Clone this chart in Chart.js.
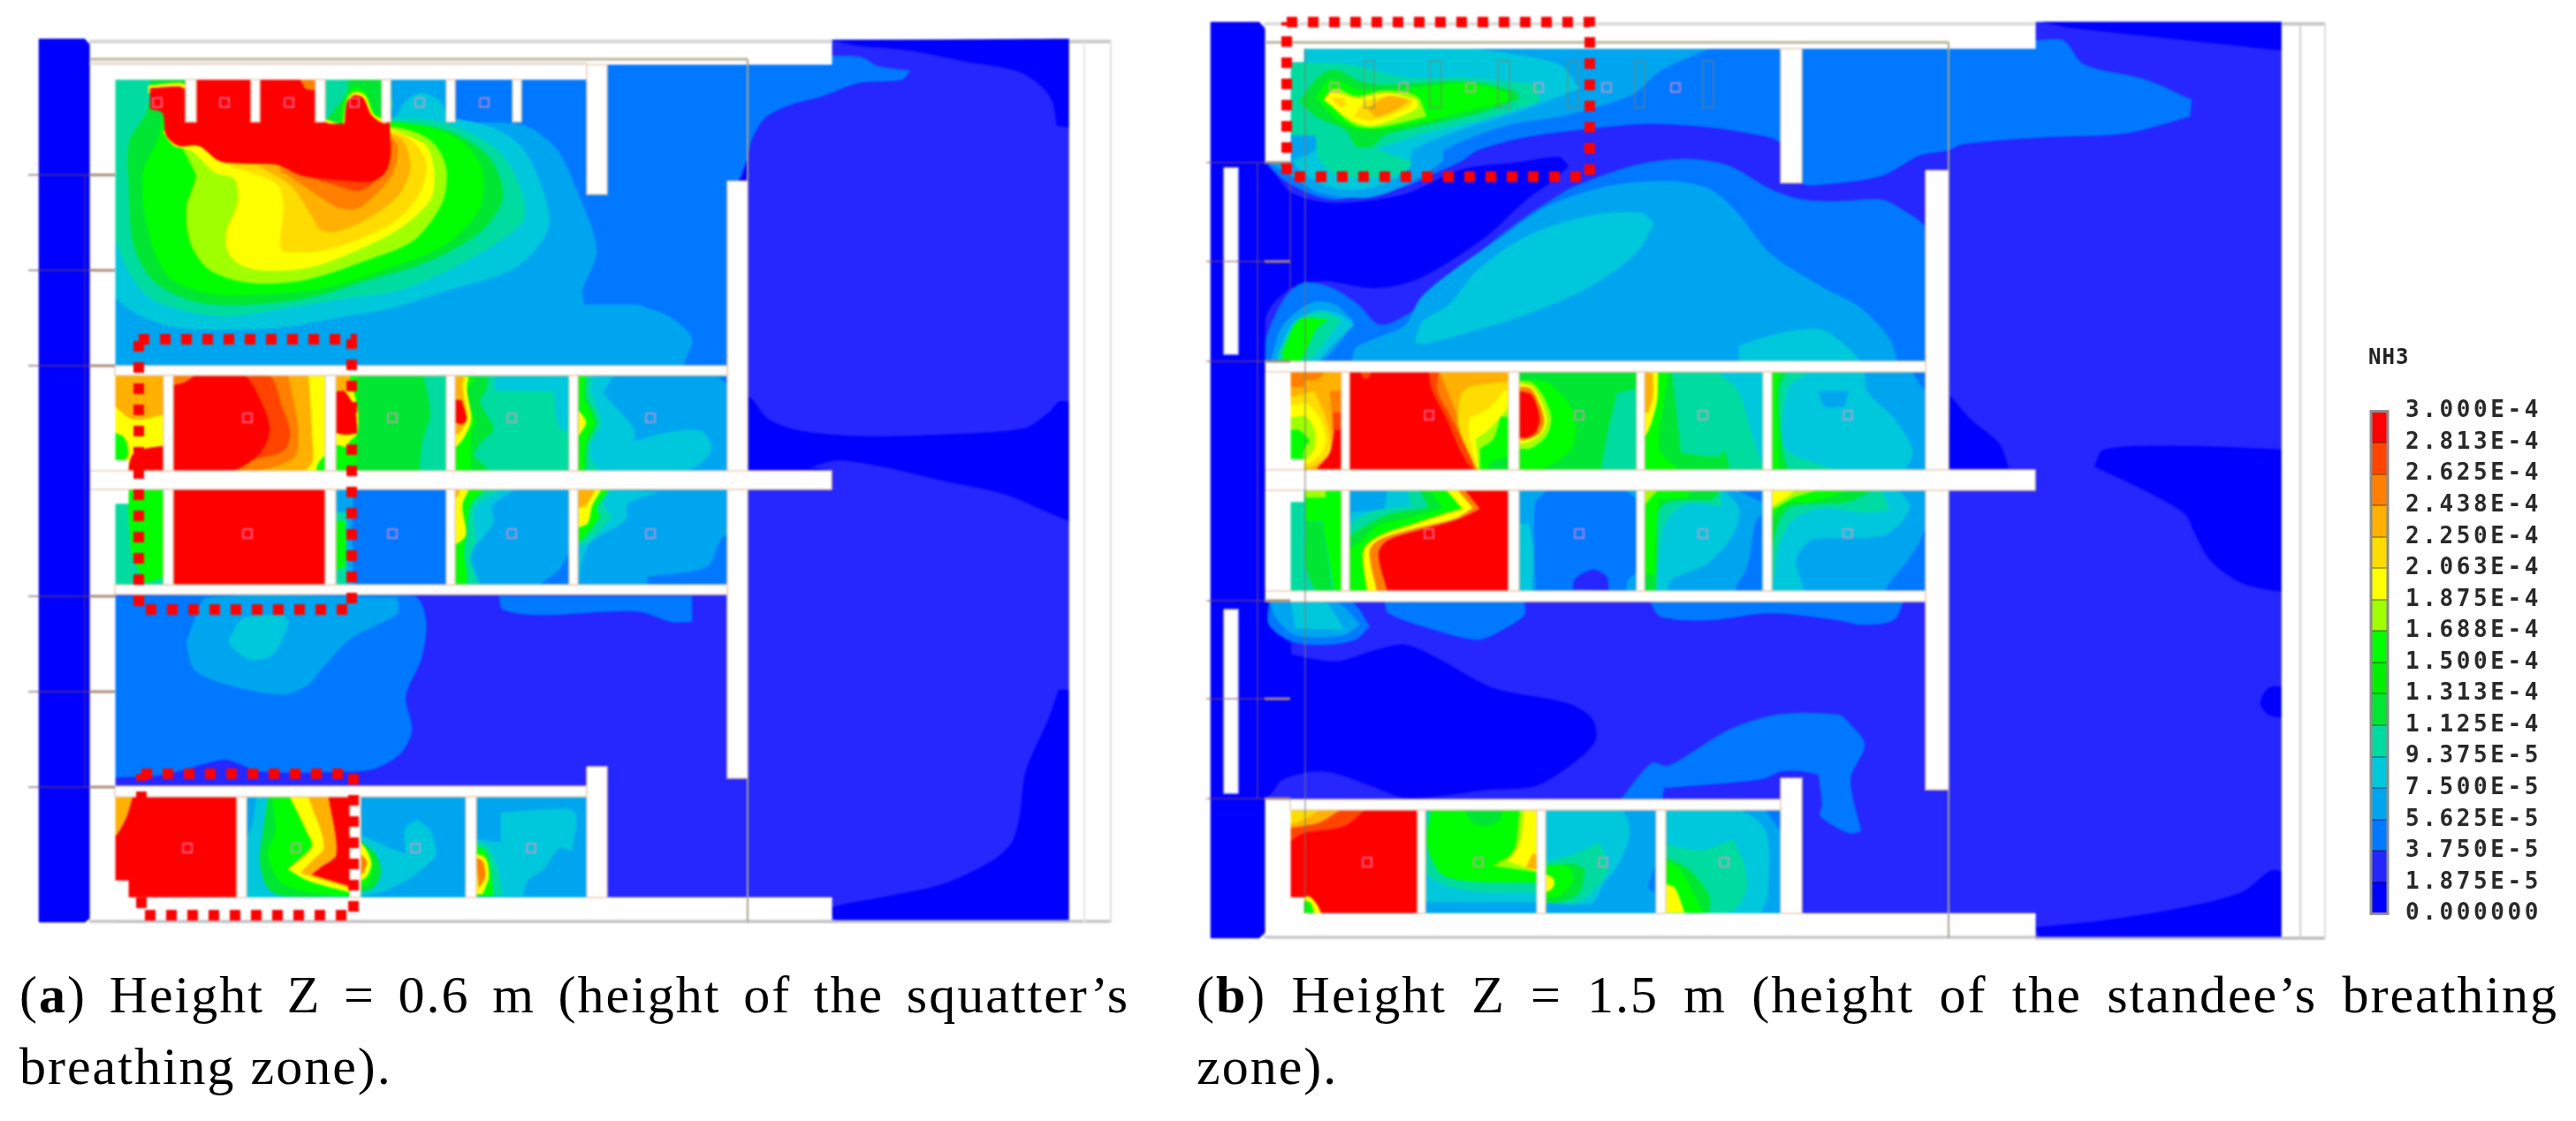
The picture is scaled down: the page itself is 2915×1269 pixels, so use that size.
<!DOCTYPE html>
<html>
<head>
<meta charset="utf-8">
<style>
  html, body { margin: 0; background: #fff; }
  body { position: relative; width: 2915px; height: 1269px; overflow: hidden; }
  canvas { position: absolute; }
  #contours { left: 0; top: 0; filter: blur(0.8px); }
  #legendBar { left: 2670px; top: 430px; filter: blur(0.6px); }
  .cap { position: absolute; font: 60px "Liberation Serif", serif; line-height: 1; color: #000; letter-spacing: 2px; text-align: justify; text-align-last: justify; }
  .cap.short { text-align-last: left; }
  #nh3 { position: absolute; left: 2680px; top: 390px; font: bold 24px "DejaVu Sans Mono", monospace; letter-spacing: 1px; color: #222; filter: blur(0.5px); }
</style>
</head>
<body>
<canvas id="contours" width="2915" height="1269" style="width:2915px;height:1269px"></canvas>
<canvas id="legendBar" width="245" height="640" style="width:245px;height:640px"></canvas>
<div id="nh3">NH3</div>
<div class="cap" style="left:22px;top:1096px;width:1256px"><span>(<b>a</b>) Height Z = 0.6 m (height of the squatter’s</span></div>
<div class="cap short" style="left:22px;top:1177px;width:1256px">breathing zone).</div>
<div class="cap" style="left:1354px;top:1096px;width:1541px"><span>(<b>b</b>) Height Z = 1.5 m (height of the standee’s breathing</span></div>
<div class="cap short" style="left:1354px;top:1177px;width:1541px">zone).</div>
<script src="https://cdn.jsdelivr.net/npm/chart.js@4"></script>
<script>
// colour bins, lowest concentration first
const levelColors = ["#0000ff", "#2626ff", "#0078ff", "#00a5f0", "#00c8dc", "#00dca0", "#00e632", "#00f000",
  "#00ff00", "#a0ff00", "#ffff00", "#ffdc00", "#ffb000", "#ff8000", "#ff4400", "#ff0000"];
const tickValues = [0, 1.875e-5, 3.75e-5, 5.625e-5, 7.5e-5, 9.375e-5, 1.125e-4, 1.313e-4, 1.5e-4, 1.688e-4,
  1.875e-4, 2.063e-4, 2.25e-4, 2.438e-4, 2.625e-4, 2.813e-4, 3e-4];
const tickLabels = ["0.000000", "1.875E-5", "3.750E-5", "5.625E-5", "7.500E-5", "9.375E-5", "1.125E-4", "1.313E-4",
  "1.500E-4", "1.688E-4", "1.875E-4", "2.063E-4", "2.250E-4", "2.438E-4", "2.625E-4", "2.813E-4", "3.000E-4"];

// contours: [level, x, y, x, y, ...]
const aBase = [
  [1, 130,45,1210,45,1210,1044,130,1044],
  [0, 943,46,1210,44,1210,144,1196,142,1191,115,1177,96,1150,80,1090,69,1030,57,975,52],
  [0, 835,205,846,205,846,165],
  [0, 846,448,851,452,870,475,907,488,975,494,1067,492,1159,485,1187,467,1198,455,1210,455,1210,590,1182,578,1136,559,1067,544,998,528,948,521,916,529,941,533,846,533],
  [0, 1210,781,1198,781,1187,813,1161,873,1154,924,1145,954,1122,975,1067,1001,998,1016,943,1027,941,1035,948,1042,1210,1042],
];
const aTopRoom = [
  [2, 130,90,664,90,664,73,941,73,941,63,975,65,994,75,1030,80,1021,90,971,94,930,109,893,119,865,134,851,157,845,180,835,205,823,205,823,414,130,414],
  [3, 130,90,515,90,515,139,592,142,629,168,652,214,675,283,659,329,661,345,720,345,728,347,760,360,783,383,776,406,771,414,130,414],
  [4, 130,337,156,356,197,370,257,373,321,370,390,358,441,349,505,329,583,303,620,260,615,218,592,169,560,146,510,134,442,134,442,90,130,90],
  [4, 448,132,459,115,477,105,498,115,505,130,505,139,448,139],
  [5, 130,268,147,310,170,337,211,352,257,358,321,349,395,337,459,326,542,287,592,249,588,211,565,172,528,149,487,136,442,134,442,110,395,90,130,90],
  [6, 165,130,146,161,146,214,151,276,174,318,220,341,275,345,349,337,413,318,487,295,546,260,569,222,555,180,519,153,482,142,442,138,442,90,395,90,392,105,378,125,368,135,222,138,210,90,170,90,170,110],
  [8, 161,199,163,237,177,291,197,318,243,333,298,333,367,326,441,303,505,276,542,237,546,195,528,165,496,147,442,138,395,138,290,138,190,150,185,130,178,160,165,185],
  [8, 385,130,392,108,402,98,414,104,425,128,440,136,390,145],
  [9, 220,207,211,237,216,276,234,303,262,316,298,321,349,316,413,295,468,272,500,230,505,192,493,165,473,151,445,144,300,140,207,168,222,199],
  [10, 184,149,197,165,216,170,243,195,266,203,269,230,257,260,257,283,271,299,298,306,349,303,395,287,450,260,487,226,491,192,482,165,459,153,443,147,300,140],
  [10, 368,135,388,142,393,112,401,104,413,108,423,130,441,138,441,145,368,142],
  [10, 168,97,203,94,210,97,210,105,168,105],
  [11, 243,180,262,188,312,207,321,230,317,276,321,285,367,283,413,268,454,245,477,214,482,184,468,161,445,149,300,140,225,160],
  [12, 280,180,294,188,330,211,353,245,363,260,381,262,413,249,450,222,464,192,459,165,445,153,300,145],
  [13, 317,192,349,214,381,234,404,236,427,218,445,195,450,168,443,157,320,150],
  [14, 330,195,372,207,404,216,422,207,441,180,443,161,340,160],
  [15, 170,100,202,98,210,101,210,90,340,90,345,100,357,103,368,138,390,140,393,115,401,108,411,111,420,130,434,140,441,138,441,180,436,195,422,205,399,205,344,199,312,186,275,185,248,182,225,165,202,165,188,153,184,128,170,123],
  [13, 340,90,357,90,357,102,346,100],
];
const aRowOne = [
  [12, 130,425,185,425,185,533,130,533],
  [10, 130,460,150,475,185,470,185,510,150,520,145,525,130,520],
  [15, 145,533,150,515,165,508,185,505,185,533],
  [8, 130,490,140,495,145,510,142,520,130,521],
  [10, 196,425,368,425,368,533,196,533],
  [8, 368,515,360,525,358,533,368,533],
  [12, 196,425,349,425,353,494,353,524,340,533,196,533],
  [13, 196,425,326,425,337,483,335,515,320,525,285,533,196,533],
  [14, 196,425,303,425,319,460,328,490,321,510,280,522,262,533,196,533],
  [15, 196,425,275,425,294,452,305,486,294,513,262,533,196,533],
  [13, 196,425,220,425,210,432,196,436],
  [6, 380,425,505,425,505,533,380,533],
  [5, 480,425,505,425,505,533,475,533,478,500,487,470],
  [8, 380,425,405,425,403,533,380,533],
  [10, 380,430,395,430,404,460,404,490,395,500,392,506,380,503],
  [15, 380,443,390,443,402,465,403,490,392,492,380,490],
  [12, 380,425,396,425,396,442,380,442],
  [5, 515,425,644,425,644,533,515,533],
  [4, 560,426,560,442,627,443,632,482,642,490,644,426],
  [6, 552,427,550,442,543,455,558,485,543,502,535,515,553,532,515,532,515,426],
  [8, 538,427,528,445,530,458,537,475,533,492,532,515,533,532,515,532,515,426],
  [10, 530,427,528,440,533,475,525,495,517,505,515,505,515,426],
  [12, 525,427,523,438,528,472,522,488,515,493,515,426],
  [15, 515,453,522,453,528,475,522,480,515,478],
  [3, 655,425,823,425,823,533,655,533],
  [4, 655,426,693,427,682,445,717,485,718,500,753,490,793,488,805,505,800,518,777,532,655,532],
  [5, 670,426,668,442,680,478,668,503,668,518,677,532,655,532,655,426],
  [6, 663,426,663,448,675,478,665,502,663,532,655,532,655,426],
  [8, 662,426,661,452,672,478,663,498,660,532,655,532,655,426],
  [10, 655,465,663,478,655,493],
  [2, 813,427,823,427,823,435],
];
const aRowTwo = [
  [5, 130,554,185,554,185,662,130,662],
  [8, 145,554,185,554,185,650,165,660,150,630,147,600,145,570],
  [15, 196,554,368,554,368,662,196,662],
  [2, 380,554,505,554,505,662,380,662],
  [3, 380,554,400,554,398,600,400,662,380,662],
  [5, 380,580,392,580,392,662,380,662],
  [8, 380,590,390,590,390,640,380,645],
  [3, 515,554,644,554,644,662,515,662],
  [2, 612,661,633,645,643,628,644,661],
  [4, 515,554,580,555,557,573,558,592,533,628,543,661,515,661],
  [5, 515,554,565,555,537,575,538,612,532,632,541,661,515,661],
  [8, 515,554,547,555,532,572,528,602,525,628,528,648,528,661,515,661],
  [10, 515,554,530,555,523,572,527,605,518,615,515,615],
  [12, 515,554,520,555,518,562,515,563],
  [3, 655,554,823,554,823,662,655,662],
  [2, 733,661,733,653,800,642,815,612,823,605,823,661],
  [4, 655,554,745,557,710,570,708,588,667,615,657,642,655,661],
  [5, 655,554,690,555,682,572,692,585,667,612,655,618],
  [8, 655,554,688,555,675,575,678,585,657,612,655,612],
  [10, 655,554,680,555,670,572,665,592,655,597],
  [12, 655,554,673,555,663,572,655,575],
];
const aLowerRoom = [
  [2, 130,675,468,675,482,702,477,745,459,788,466,826,454,852,427,869,404,873,294,873,257,860,230,865,184,877,130,880],
  [2, 565,675,569,690,610,696,720,692,760,704,783,704,783,675],
  [3, 211,728,220,702,234,677,450,677,450,694,427,707,395,724,363,758,349,775,321,786,257,775,220,758],
  [4, 259,724,275,700,321,696,326,707,308,741,285,747,262,732],
];
const aBottomRow = [
  [15, 130,902,268,902,268,1016,130,1016],
  [12, 130,902,150,902,143,925,132,945,130,945],
  [4, 279,902,396,902,396,1016,279,1016],
  [3, 279,902,290,902,286,930,279,950],
  [6, 303,903,298,941,294,975,303,1005,321,1014,396,1014,396,902],
  [8, 308,903,312,941,303,967,321,1001,381,1014,396,1014,396,902],
  [10, 328,902,347,941,353,958,326,984,349,997,396,1010,396,902],
  [12, 349,902,367,958,353,975,340,988,396,1005,396,902],
  [15, 372,902,381,967,363,982,353,990,396,1003,396,902],
  [3, 408,902,527,902,527,1016,408,1016],
  [4, 408,945,436,958,459,967,459,937,473,928,487,941,493,967,477,984,459,997,431,1010,408,1014],
  [6, 408,952,425,967,431,988,422,1005,408,1010],
  [8, 408,954,419,967,422,984,415,1001,408,1003],
  [10, 408,954,415,963,420,978,415,992,408,997],
  [13, 408,967,415,975,411,988,408,990],
  [3, 539,902,664,902,664,1016,539,1016],
  [4, 567,920,643,916,652,924,647,963,633,960,615,984,597,997,592,1014,539,1014,539,950,567,954],
  [5, 539,952,551,958,562,980,569,1014,539,1014],
  [8, 539,958,549,963,555,984,558,1014,539,1014],
  [10, 539,967,549,971,553,992,546,1012,539,1012],
  [13, 539,971,546,975,549,992,542,1005],
];

const bBase = [
  [1, 1431,25,2582,25,2582,1062,1431,1062],
  [0, 2340,31,2582,57,2582,25,2312,25],
  [0, 2207,448,2230,475,2262,502,2273,530,2205,530],
  [0, 2370,528,2381,509,2473,505,2582,509,2582,670,2537,660,2501,634,2482,600,2473,582,2427,555],
  [0, 2582,986,2569,986,2537,1010,2473,1027,2381,1042,2303,1050,2310,1061,2582,1061],
  [0, 2582,777,2567,779,2558,796,2567,809,2582,812],
];
const bTopRoom = [
  [0, 1436,186,1461,218,1511,230,1589,220,1654,192,1718,184,1764,178,1775,188,1759,203,1727,226,1681,268,1608,314,1557,326,1498,318,1461,326,1433,356,1431,406,1431,186],
  [2, 1460,55,2303,55,2303,46,2335,46,2358,73,2427,90,2480,113,2478,132,2404,151,2317,155,2221,163,2205,170,2172,176,2129,199,2060,209,2039,207,2014,161,1980,151,1934,144,1865,140,1796,146,1727,155,1672,170,1654,182,1626,195,1590,211,1544,220,1511,226,1484,220,1452,203,1436,188,1436,184,1460,184],
  [2, 1775,214,1824,195,1865,184,1911,180,1957,188,2003,214,2039,226,2080,228,2129,226,2152,237,2179,260,2179,409,1428,409,1434,379,1454,337,1475,320,1507,326,1537,345,1562,368,1599,352,1640,318,1681,280,1727,245],
  [3, 1530,406,1534,394,1557,383,1590,368,1608,337,1645,306,1700,268,1750,234,1819,211,1888,205,1934,214,1966,241,2003,287,2060,324,2106,349,2138,383,2147,409,1530,409],
  [3, 1438,409,1452,368,1484,343,1511,345,1532,364,1516,387,1493,409],
  [4, 1601,387,1610,364,1640,345,1672,306,1727,268,1796,245,1856,241,1872,253,1851,287,1796,326,1727,356,1658,377,1612,389],
  [4, 1968,391,2016,377,2060,373,2088,391,2106,409,1968,409],
  [4, 1445,409,1461,368,1489,352,1516,356,1532,368,1507,391,1489,409],
  [5, 1447,398,1468,364,1498,354,1518,362,1502,383,1479,409,1447,409],
  [8, 1452,398,1470,362,1502,362,1489,373,1470,409,1452,409],
  [3, 1934,55,1879,80,1847,107,1773,130,1704,142,1635,169,1631,184,1580,214,1544,224,1493,218,1461,199,1436,184,1460,184,1460,70,1477,55],
  [4, 1670,55,1764,73,1787,100,1727,123,1654,146,1599,169,1596,180,1580,201,1539,214,1498,209,1463,180,1460,70,1475,55],
  [3, 1460,149,1489,153,1489,169,1466,180,1460,180],
  [5, 1460,71,1525,73,1590,88,1658,88,1741,96,1741,115,1681,134,1603,153,1557,169,1599,184,1585,197,1516,199,1493,180,1489,153,1460,153],
  [6, 1470,115,1493,86,1511,79,1539,92,1567,96,1658,92,1713,103,1720,111,1681,126,1612,142,1567,153,1553,165,1534,165,1523,147,1493,134],
  [8, 1489,111,1502,92,1516,92,1537,101,1590,101,1658,94,1704,105,1709,113,1658,126,1590,142,1544,147,1516,138],
  [9, 1498,111,1511,100,1534,109,1567,103,1603,109,1614,132,1557,144,1530,140],
  [10, 1498,113,1507,105,1537,111,1567,105,1603,113,1603,123,1553,142,1530,136],
  [11, 1544,115,1571,109,1599,113,1594,121,1553,136,1532,132],
  [11, 1507,111,1521,111,1523,119,1516,121],
  [12, 1548,123,1571,109,1594,113,1585,121,1557,132],
];
const bRowOne = [
  [12, 1460,420,1518,420,1518,532,1460,532],
  [13, 1460,420,1500,420,1490,430,1477,430,1475,438,1460,438],
  [13, 1505,443,1518,442,1518,487,1508,487,1507,467],
  [14, 1509,467,1518,467,1518,487,1509,487],
  [15, 1510,487,1518,487,1518,531,1490,531,1505,513],
  [11, 1460,450,1487,443,1500,473,1505,510,1490,525,1477,530,1460,520],
  [10, 1460,460,1478,457,1493,473,1500,497,1495,513,1483,523,1477,525,1460,520],
  [9, 1460,473,1478,472,1488,490,1487,507,1477,520,1460,520],
  [8, 1460,487,1470,487,1482,498,1475,510,1475,520,1460,520],
  [15, 1527,420,1707,420,1707,532,1527,532],
  [14, 1617,421,1620,440,1635,470,1667,531,1707,531,1707,420],
  [13, 1628,421,1627,443,1640,468,1667,523,1670,531,1707,531,1707,420],
  [12, 1630,423,1640,447,1652,477,1670,520,1673,531,1707,531,1707,420,1632,420],
  [11, 1653,447,1663,438,1707,432,1707,531,1673,531,1667,523,1650,480],
  [10, 1663,473,1677,467,1690,458,1702,443,1707,442,1707,531,1672,531,1668,517,1662,490],
  [9, 1670,497,1683,488,1700,470,1707,460,1707,531,1673,531,1672,513],
  [8, 1675,508,1690,497,1698,472,1707,472,1707,531,1675,531],
  [6, 1687,523,1707,517,1707,531,1683,531],
  [14, 1540,421,1552,421,1548,428,1543,428],
  [6, 1719,420,1852,420,1852,532,1719,532],
  [5, 1830,445,1820,487,1812,531,1852,531,1852,440],
  [8, 1719,430,1750,433,1775,457,1783,487,1778,507,1760,523,1743,531,1719,531],
  [9, 1719,432,1733,433,1747,450,1755,473,1750,493,1733,507,1719,508],
  [10, 1719,435,1732,437,1743,453,1750,475,1745,490,1730,500,1719,502],
  [13, 1719,438,1732,440,1740,453,1747,475,1742,490,1728,497,1719,498],
  [15, 1719,443,1733,447,1742,473,1737,490,1727,495,1719,495],
  [5, 1861,421,1995,421,1995,532,1861,532],
  [4, 1945,422,1967,443,1983,493,1994,527,1994,421],
  [6, 1892,422,1898,477,1902,513,1943,517,1952,510,1957,530,1861,532,1861,421],
  [8, 1888,422,1880,470,1878,510,1900,532,1861,532,1861,421],
  [10, 1876,422,1875,453,1868,480,1862,493,1861,493,1861,421],
  [12, 1870,422,1870,450,1865,467,1861,467,1861,421],
  [4, 2005,421,2181,421,2181,532,2005,532],
  [5, 2005,421,2045,422,2023,440,2020,507,2073,531,2005,531],
  [6, 2005,421,2020,422,2013,443,2017,510,2023,531,2005,531],
  [8, 2005,421,2013,422,2010,443,2013,531,2005,531],
  [3, 2110,422,2113,443,2143,473,2165,510,2157,531,2181,531,2181,421],
  [3, 2058,443,2092,443,2087,460,2065,460],
  [2, 2165,422,2181,422,2181,442,2175,438],
];
const bRowTwo = [
  [5, 1460,555,1518,555,1518,669,1460,669],
  [8, 1477,555,1518,555,1518,669,1510,669,1497,590,1478,590],
  [6, 1478,590,1497,593,1507,669,1490,669,1478,640],
  [9, 1477,555,1500,555,1500,563,1477,563],
  [3, 1527,555,1707,555,1707,669,1527,669],
  [4, 1570,555,1567,577,1530,580,1527,597,1527,669,1707,669,1707,555],
  [5, 1593,555,1597,573,1550,580,1527,600,1527,669,1707,669,1707,555],
  [6, 1607,555,1617,575,1570,583,1538,600,1527,610,1527,669,1707,669,1707,555],
  [8, 1617,555,1633,575,1593,587,1560,595,1540,613,1527,623,1527,669,1707,669,1707,555],
  [10, 1637,555,1655,576,1640,580,1600,593,1560,607,1543,623,1547,669,1707,669,1707,555],
  [13, 1650,555,1667,575,1647,587,1603,598,1563,610,1550,623,1558,669,1707,669,1707,555],
  [15, 1658,555,1675,576,1650,588,1607,600,1570,612,1560,627,1570,669,1707,669,1707,555],
  [2, 1719,555,1852,555,1852,669,1719,669],
  [3, 1719,555,1750,556,1737,570,1737,669,1719,669],
  [4, 1719,593,1730,593,1735,623,1733,669,1719,669],
  [1, 1780,667,1783,655,1803,645,1818,653,1820,668],
  [3, 1840,555,1852,555,1852,565],
  [3, 1842,657,1852,648,1852,669,1840,669],
  [3, 1861,555,1995,555,1995,669,1861,669],
  [2, 1968,556,1993,556,1993,568,1983,563],
  [2, 1965,669,1965,663,1977,643,1987,590,1993,583,1993,669],
  [4, 1861,555,1947,556,1953,557,1968,577,1960,607,1933,637,1890,657,1887,669,1861,669],
  [5, 1861,555,1947,556,1948,573,1910,570,1887,587,1878,617,1875,669,1861,669],
  [6, 1861,555,1945,556,1937,565,1893,567,1877,577,1875,623,1873,669,1861,669],
  [8, 1861,555,1912,556,1910,563,1877,565,1873,617,1873,650,1861,650],
  [9, 1861,555,1875,556,1868,563,1861,572],
  [3, 2005,555,2181,555,2181,669,2005,669],
  [2, 2133,669,2140,658,2167,623,2181,593,2181,669],
  [4, 2005,555,2147,556,2162,573,2150,593,2127,607,2053,610,2037,623,2032,637,2042,669,2005,669],
  [5, 2005,555,2130,556,2137,577,2110,580,2063,575,2030,587,2013,617,2005,669],
  [6, 2005,555,2117,556,2090,568,2027,573,2013,590,2005,623],
  [8, 2005,555,2090,556,2053,567,2020,570,2005,587],
  [9, 2005,555,2053,556,2030,563,2005,577],
  [10, 2005,555,2030,556,2023,562,2005,573],
];
const bLowerRoom = [
  [0, 1461,741,1511,749,1557,736,1590,730,1626,745,1690,779,1773,796,1801,813,1805,839,1773,869,1736,890,1681,894,1645,899,1590,903,1553,890,1498,873,1452,882,1438,899,1431,904,1431,681,1460,681],
  [2, 1436,681,1436,707,1461,726,1498,730,1534,724,1550,709,1528,681],
  [3, 1438,681,1443,698,1466,719,1521,719,1539,707,1511,681],
  [4, 1461,681,1466,711,1521,713,1507,690,1498,681],
  [2, 1567,681,1571,694,1617,711,1672,724,1700,713,1725,696,1725,681],
  [2, 1867,681,1879,698,1934,702,2003,694,2080,702,2106,707,2143,702,2154,681],
  [2, 1835,904,1869,864,1888,867,1957,826,2012,809,2080,809,2092,818,2110,843,2094,882,2106,941,2092,943,2060,924,2062,911,2058,877,2039,873,2016,873,1993,882,1883,892,1881,904],
];
const bBottomRow = [
  [15, 1460,917,1604,917,1604,1034,1460,1034],
  [14, 1460,917,1544,917,1521,935,1475,943,1460,952],
  [12, 1460,917,1516,917,1493,931,1461,937],
  [11, 1460,917,1493,917,1475,928,1460,933],
  [10, 1475,1016,1475,1034,1495,1034,1490,1024,1482,1015],
  [8, 1475,1021,1482,1021,1487,1034,1475,1034],
  [3, 1613,917,1739,917,1739,1034,1613,1034],
  [4, 1613,917,1739,917,1739,1021,1613,1021],
  [5, 1613,917,1739,917,1739,1010,1670,1009,1630,1000,1613,985],
  [8, 1620,917,1739,917,1739,999,1660,997,1630,988,1615,954],
  [6, 1658,917,1700,917,1695,930,1680,935,1665,930],
  [9, 1720,917,1739,917,1739,987,1690,980,1713,963],
  [10, 1725,917,1739,917,1739,986,1707,975,1720,954],
  [12, 1734,967,1739,967,1739,984,1727,982],
  [3, 1749,917,1874,917,1874,1034,1749,1034],
  [4, 1749,917,1833,917,1844,941,1833,975,1814,1001,1801,1022,1749,1022],
  [2, 1872,982,1865,1005,1872,1010],
  [5, 1749,975,1782,967,1810,954,1819,984,1801,1010,1782,1022,1749,1022],
  [6, 1749,980,1780,978,1794,984,1787,1010,1769,1020,1749,1022],
  [8, 1749,980,1775,982,1780,997,1764,1014,1749,1016],
  [10, 1749,990,1758,995,1757,1005,1749,1010],
  [3, 1885,917,2015,917,2015,1034,1885,1034],
  [2, 1998,917,2015,917,2015,941],
  [4, 1885,917,1966,917,1998,941,2000,1014,1993,1033,1885,1033],
  [5, 1885,956,1925,963,1961,950,1975,984,1975,1010,1957,1033,1885,1033],
  [6, 1885,971,1911,984,1934,1014,1934,1033,1885,1033],
  [8, 1885,975,1901,984,1924,1027,1927,1033,1885,1033],
  [10, 1885,1001,1895,1005,1906,1033,1885,1033],
];

// solid parts: [x1, y1, x2, y2]
const openWhite = [
  [101,44,664,90],[664,44,941,73],[101,50,130,1016],[101,521,145,570],[101,997,145,1016],[101,1016,941,1044],[1210,44,1257,1044],
  [1431,22,2303,55],[1431,55,1475,70],[1431,70,1460,184],[1431,412,1460,520],[1431,520,1475,532],[1431,555,1475,568],[1431,568,1460,669],
  [1431,905,1460,1016],[1431,1016,1475,1034],[1431,1034,2303,1063],[2582,22,2631,1063],
];
const tanWalls = [
  [664,73,687,220],[823,205,846,881],[101,533,941,554],[130,414,823,425],[130,662,823,673],[130,890,664,902],[664,868,687,1016],
  [185,425,196,533],[368,425,380,533],[505,425,515,533],[644,425,654,533],
  [185,554,196,662],[368,554,380,662],[505,554,515,662],[644,554,654,662],
  [210,90,222,138],[284,90,294,138],[357,90,368,138],[432,90,442,138],[505,90,515,138],[580,90,590,138],
  [268,902,279,1016],[396,902,408,1016],[527,902,539,1016],
  [2015,55,2039,207],[2179,193,2205,894],[1431,532,2303,555],[1431,409,2179,421],[1431,669,2179,681],[1460,905,2015,917],[2015,881,2039,1034],
  [1518,421,1527,532],[1707,421,1719,532],[1852,421,1861,532],[1995,421,2005,532],
  [1518,555,1527,669],[1707,555,1719,669],[1852,555,1861,669],[1995,555,2005,669],
  [1604,917,1613,1034],[1739,917,1749,1034],[1874,917,1885,1034],
];
const slots = [[1385,190,1401,401],[1385,690,1401,898]];
const ghostStalls = [[1544,69,1555,122],[1618,69,1631,122],[1695,69,1708,122],[1774,69,1786,122],[1850,69,1861,122],[1927,69,1939,122]];

// outlet squares: centre x, centre y
const outlets = [
  [178,116],[254,116],[327,116],[401,116],[475,116],[548,116],
  [280,473],[444,473],[579,473],[736,473],[280,604],[444,604],[579,604],[736,604],
  [212,960],[335,960],[470,960],[601,960],
  [1510,99],[1588,99],[1664,99],[1741,99],[1818,99],[1896,99],
  [1617,470],[1787,470],[1927,470],[2091,470],[1617,604],[1787,604],[1927,604],[2091,604],
  [1547,976],[1673,976],[1814,976],[1951,976],
];
const aTickY = [198, 306, 414, 675, 783, 891];
const bTickY = [184, 296, 409, 680, 791, 904];

// red dotted boxes
const dottedBoxes = [
  [157,384,398,384,398,690,157,690,157,384],
  [160,876,400,876,400,1036,160,1036,160,876],
  [1456,25,1799,25,1799,200,1456,200,1456,25],
];

function closedPoints(flat) {
  const pts = [];
  for (let i = 0; i < flat.length; i += 2) pts.push({ x: flat[i], y: flat[i + 1] });
  const out = [];
  pts.forEach((p, i) => {
    const a = pts[(i + pts.length - 1) % pts.length];
    const b = pts[(i + 1) % pts.length];
    const ux = p.x - a.x, uy = p.y - a.y, vx = b.x - p.x, vy = b.y - p.y;
    const cos = (ux * vx + uy * vy) / (Math.hypot(ux, uy) * Math.hypot(vx, vy) || 1);
    out.push(p);
    // a hard corner is doubled so the curve doesn't bulge past it
    if (cos < 0.35) out.push({ x: p.x, y: p.y });
  });
  out.push(pts[0]);
  return out;
}

const datasets = [];

function addShape(color, flat, border, tension) {
  datasets.push({
    data: closedPoints(flat), showLine: true, fill: "shape", backgroundColor: color,
    borderColor: border || color, borderWidth: border ? 1.5 : 0.5, pointRadius: 0, tension: tension,
  });
}

function addLine(color, width, flat, dash) {
  const data = [];
  for (let i = 0; i < flat.length; i += 2) data.push({ x: flat[i], y: flat[i + 1] });
  datasets.push({ data: data, showLine: true, fill: false, borderColor: color, borderWidth: width, borderDash: dash || [], pointRadius: 0, tension: 0 });
}

function rectFlat(r) {
  return [r[0], r[1], r[2], r[1], r[2], r[3], r[0], r[3]];
}

[aBase, aTopRoom, aRowOne, aRowTwo, aLowerRoom, aBottomRow, bBase, bTopRoom, bRowOne, bRowTwo, bLowerRoom, bBottomRow].forEach((group) => {
  group.forEach((c) => addShape(levelColors[c[0]], c.slice(1), null, 0.3));
});

openWhite.forEach((r) => addShape("#ffffff", rectFlat(r), null, 0));
tanWalls.forEach((r) => addShape("#ffffff", rectFlat(r), "#e6cdb8", 0));

// left inlet bands
addShape(levelColors[0], [44,44,96,44,101,50,101,1040,96,1044,44,1044], null, 0);
addShape(levelColors[0], [1370,25,1425,25,1431,32,1431,1056,1425,1062,1370,1062], null, 0);
slots.forEach((r) => addShape("#ffffff", rectFlat(r), "#c8c8ff", 0));

outlets.forEach((o) => {
  const r = [o[0] - 5, o[1] - 5, o[0] + 5, o[1] + 5];
  const f = rectFlat(r);
  addLine("rgba(255,140,200,0.65)", 2, f.concat(f.slice(0, 2)));
});
ghostStalls.forEach((r) => {
  const f = rectFlat(r);
  addLine("rgba(120,130,110,0.5)", 2, f.concat(f.slice(0, 2)));
});

// frame and grid lines of the plan
addLine("#d4d4d4", 4, [101,47,941,47]);
addLine("#c8c8c8", 4, [1210,47,1257,47]);
addLine("#bdbdbd", 3, [101,1043,941,1043]);
addLine("#bdbdbd", 3, [941,1043,1257,1043]);
addLine("#dddddd", 2, [1257,47,1257,1044]);
addLine("#e6e6e6", 2, [1227,47,1227,1044]);
addLine("#b9b59a", 3, [101,67,846,67]);
addLine("#e6dacd", 3, [101,72,664,72]);
addLine("#a5a58c", 2, [846,67,846,205]);
addLine("#a5a58c", 2, [846,881,846,1044]);
addLine("rgba(90,60,110,0.45)", 2, [96,198,96,891]);
aTickY.forEach((y) => {
  addLine("rgba(110,70,90,0.55)", 2, [32,y,101,y]);
  addLine("#a88a78", 3, [101,y,130,y]);
});

addLine("#dcdcdc", 4, [1431,27,2303,27]);
addLine("#c8c8c8", 4, [2582,27,2631,27]);
addLine("#c0c0c0", 3, [1431,1061,2303,1061]);
addLine("#b4b4b4", 3, [2303,1062,2631,1062]);
addLine("#dddddd", 2, [2631,27,2631,1062]);
addLine("#cfcfd6", 2, [2603,27,2603,1062]);
addLine("#b9b59a", 3, [1431,48,2205,48]);
addLine("#a5a58c", 2, [2205,48,2205,193]);
addLine("#a5a58c", 2, [2205,894,2205,1062]);
addLine("rgba(120,120,110,0.5)", 2, [1477,55,1477,1034]);
addLine("rgba(140,90,90,0.45)", 2, [1460,184,1460,330]);
addLine("rgba(140,90,90,0.45)", 2, [1423,184,1423,904]);
bTickY.forEach((y) => {
  addLine("rgba(130,80,90,0.5)", 2, [1365,y,1431,y]);
  addLine("#a88a78", 3, [1431,y,1460,y]);
});

dottedBoxes.forEach((b) => addLine("#ff0000", 12, b, [12, 12]));

datasets.forEach((d, i) => { d.order = datasets.length - i; });

new Chart(document.getElementById("contours"), {
  type: "scatter",
  data: { datasets: datasets },
  options: {
    responsive: false,
    animation: false,
    devicePixelRatio: 1,
    events: [],
    layout: { padding: 0 },
    plugins: { legend: { display: false }, tooltip: { enabled: false } },
    scales: {
      x: { type: "linear", min: 0, max: 2915, display: false },
      y: { type: "linear", min: 0, max: 1269, reverse: true, display: false },
    },
  },
});

const barFrame = {
  id: "barFrame",
  beforeDraw(chart) {
    chart.ctx.letterSpacing = "3.6px";
  },
  afterDraw(chart) {
    const a = chart.chartArea;
    chart.ctx.save();
    chart.ctx.strokeStyle = "#8c8c8c";
    chart.ctx.lineWidth = 3;
    chart.ctx.strokeRect(a.left, a.top, a.right - a.left, a.bottom - a.top);
    chart.ctx.restore();
  },
};

new Chart(document.getElementById("legendBar"), {
  type: "bar",
  data: {
    labels: ["NH3"],
    datasets: levelColors.map((color, i) => ({
      data: [tickValues[i + 1] - tickValues[i]],
      backgroundColor: color,
      barPercentage: 1,
      categoryPercentage: 1,
    })),
  },
  options: {
    responsive: false,
    animation: false,
    devicePixelRatio: 1,
    events: [],
    layout: { padding: { left: 13, top: 12, bottom: 20, right: 0 } },
    plugins: { legend: { display: false }, tooltip: { enabled: false } },
    scales: {
      x: { stacked: true, display: false },
      y: {
        stacked: true,
        position: "right",
        min: 0,
        max: 3e-4,
        afterBuildTicks(scale) { scale.ticks = tickValues.map((v) => ({ value: v })); },
        afterFit(scale) { scale.width = 213; },
        grid: { display: true, z: 1, color: "rgba(0,0,0,0.3)", lineWidth: 2, drawTicks: false },
        border: { display: false },
        ticks: {
          autoSkip: false,
          padding: 20,
          color: "#2a2a2a",
          font: { family: "DejaVu Sans Mono", size: 26, weight: "bold" },
          callback: (value, index) => tickLabels[index],
        },
      },
    },
  },
  plugins: [barFrame],
});
</script>
</body>
</html>
